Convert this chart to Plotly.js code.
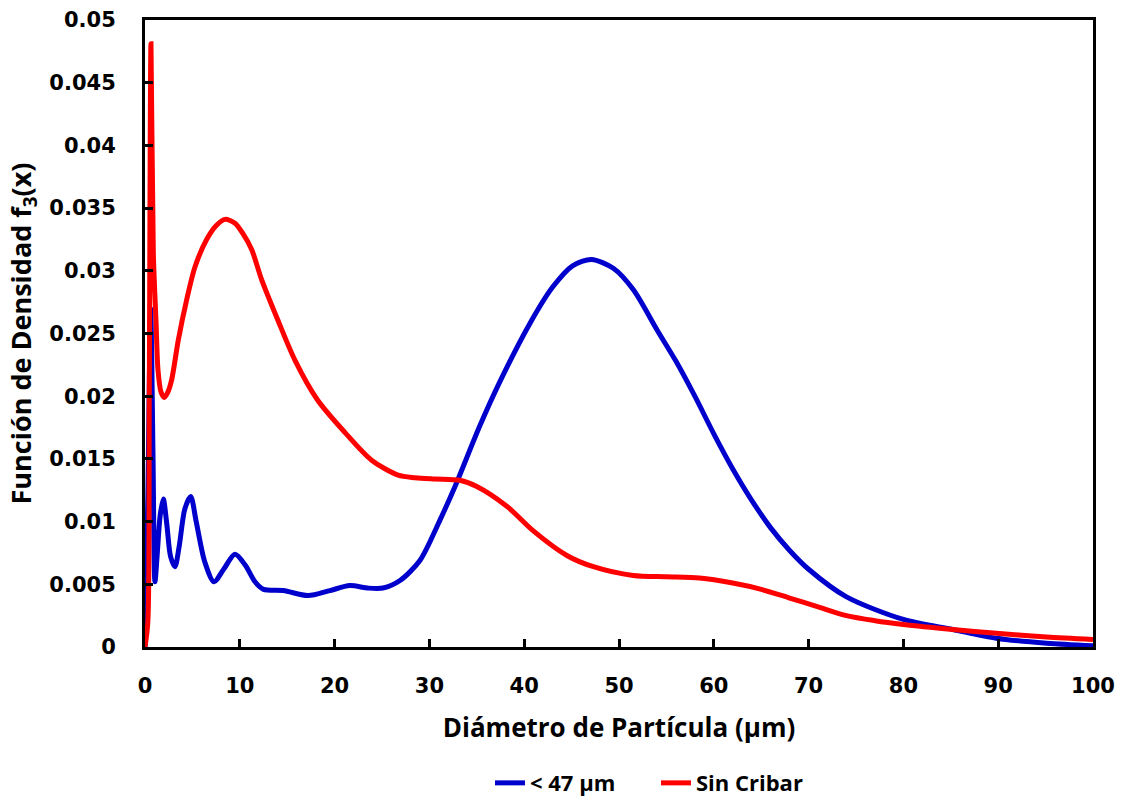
<!DOCTYPE html>
<html>
<head>
<meta charset="utf-8">
<script src="https://cdn.plot.ly/plotly-3.0.1.min.js"></script>
<style>html,body{margin:0;padding:0;background:#fff;}#chart{width:1123px;height:803px;}</style>
</head>
<body>
<div id="chart"></div>
<script>
// Series "< 47 µm"
var blueX = [0, 0.3, 0.6, 0.85, 1.05, 1.3, 1.6, 1.93, 2.3, 2.7, 3.16, 3.6, 4.2, 4.82, 5.4, 6.3, 7.28, 8.3, 9.49, 10.6, 11.6, 12.5, 14.6, 17.2, 19.5, 21.6, 23.5, 25.1, 26.9, 29.0, 31.1, 32.7, 35.3, 37.4, 40.6, 43.0, 45.1, 47.1, 49.4, 51.5, 54.0, 56.0, 58.0, 60.0, 62.0, 64.0, 66.0, 68.0, 70.0, 74.0, 80.0, 85.2, 89.8, 95.1, 100];
var blueY = [0, 0.012, 0.027, 0.015, 0.0052, 0.0075, 0.0105, 0.0118, 0.0098, 0.0072, 0.0064, 0.0080, 0.0110, 0.0120, 0.0100, 0.0068, 0.0052, 0.0062, 0.0074, 0.0065, 0.0052, 0.0046, 0.0045, 0.0041, 0.0045, 0.0049, 0.0047, 0.0047, 0.0053, 0.0069, 0.0101, 0.0128, 0.0176, 0.0211, 0.0258, 0.0287, 0.0304, 0.0309, 0.0302, 0.0285, 0.0253, 0.0228, 0.0200, 0.0170, 0.0142, 0.0117, 0.0095, 0.0077, 0.0062, 0.0040, 0.0022, 0.0014, 0.0007, 0.0003, 0.0001];
// Series "Sin Cribar"
var redX = [0, 0.3, 0.45, 0.63, 0.88, 1.16, 1.37, 1.7, 2.04, 2.4, 2.81, 3.52, 4.4, 5.27, 6.5, 7.5, 8.44, 9.49, 10.3, 11.25, 12.3, 14.0, 15.8, 18.2, 21.1, 23.9, 26.7, 28.5, 30.6, 33.2, 35.0, 38.2, 40.9, 44.5, 47.3, 51.5, 55.0, 58.5, 62.0, 65.0, 68.0, 71.0, 74.0, 77.0, 80.0, 85.2, 89.8, 95.1, 100];
var redY = [0, 0.002, 0.02, 0.0481, 0.0314, 0.026, 0.0221, 0.0203, 0.0199, 0.0203, 0.0213, 0.0245, 0.0277, 0.0303, 0.0325, 0.0336, 0.0341, 0.0338, 0.0330, 0.0317, 0.0293, 0.0261, 0.0229, 0.0197, 0.0171, 0.0149, 0.0137, 0.0135, 0.0134, 0.0133, 0.0128, 0.0112, 0.0093, 0.0073, 0.0064, 0.0057, 0.0056, 0.0055, 0.0051, 0.0046, 0.0039, 0.0032, 0.0025, 0.0021, 0.0018, 0.0014, 0.0011, 0.0008, 0.0006];

var seriesNames = ["< 47 µm", "Sin Cribar"];
var xTickVals = [0, 10, 20, 30, 40, 50, 60, 70, 80, 90, 100];
var yTickVals = [0, 0.005, 0.01, 0.015, 0.02, 0.025, 0.03, 0.035, 0.04, 0.045, 0.05];
var yTickText = ["0", "0.005", "0.01", "0.015", "0.02", "0.025", "0.03", "0.035", "0.04", "0.045", "0.05"];

var tickFont = {family: "DejaVu Sans", size: 21, color: "#000", weight: "bold"};
var titleFont = {family: "Open Sans", size: 26, color: "#000", weight: "bold"};
var yTitleFont = {family: "Open Sans", size: 27, color: "#000", weight: "bold"};

var traces = [
  {x: blueX, y: blueY, name: seriesNames[0], mode: "lines", line: {color: "#0000CC", width: 5, shape: "spline", smoothing: 0.8}},
  {x: redX, y: redY, name: seriesNames[1], mode: "lines", line: {color: "#FF0000", width: 5, shape: "spline", smoothing: 0.8}}
];

var layout = {
  width: 1123, height: 803,
  margin: {l: 145, r: 30, t: 20, b: 156, autoexpand: false},
  paper_bgcolor: "#fff", plot_bgcolor: "#fff",
  showlegend: true,
  legend: {orientation: "h", x: 0.539, xanchor: "center", y: -0.217, yanchor: "middle", entrywidth: 121,
           font: {family: "Open Sans", size: 22, color: "#000", weight: "bold"}, tracegroupgap: 0},
  xaxis: {range: [0, 100], tickvals: xTickVals, ticks: "inside", ticklen: 8, tickwidth: 3, tickcolor: "#000",
          showline: true, linecolor: "#000", linewidth: 3, mirror: true, showgrid: false, zeroline: false,
          tickfont: tickFont, ticklabelstandoff: 18,
          title: {text: "Diámetro de Partícula (µm)", font: titleFont, standoff: 22}},
  yaxis: {range: [0, 0.05], tickvals: yTickVals, ticktext: yTickText, ticks: "inside", ticklen: 8, tickwidth: 3, tickcolor: "#000",
          showline: true, linecolor: "#000", linewidth: 3, mirror: true, showgrid: false, zeroline: false,
          tickfont: tickFont, ticklabelstandoff: 22,
          title: {text: "Función de Densidad f<sub>3</sub>(x)", font: yTitleFont, standoff: 10}}
};

Plotly.newPlot("chart", traces, layout, {displayModeBar: false, staticPlot: true});
</script>
</body>
</html>
